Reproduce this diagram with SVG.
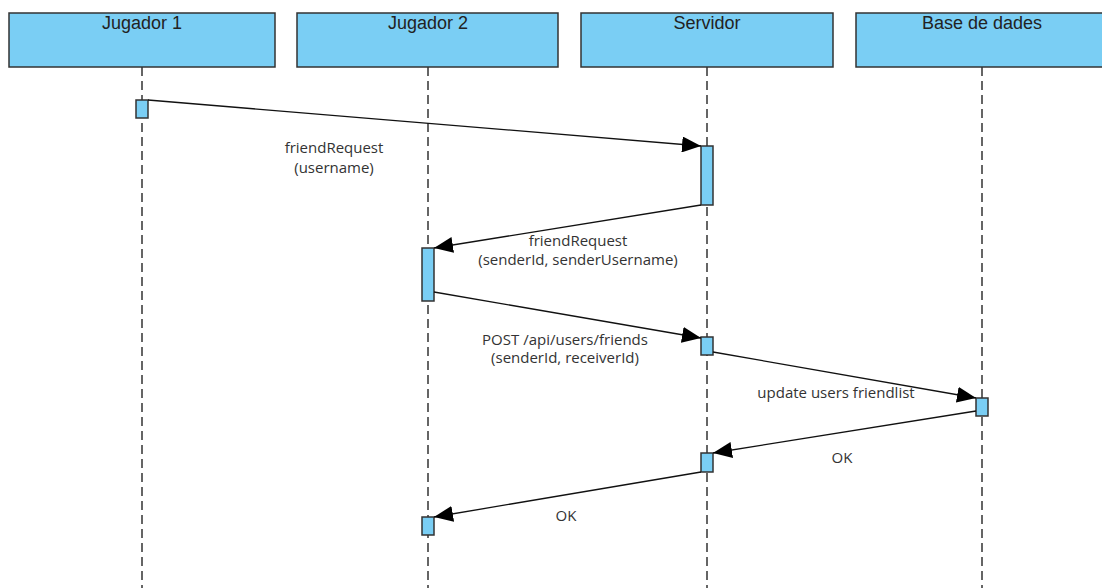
<svg xmlns="http://www.w3.org/2000/svg" width="1102" height="588" viewBox="0 0 1102 588">
<style>
.hd{fill:#7acef4;stroke:#333;stroke-width:1.5}
.ht{font-family:"Liberation Sans",Arial,sans-serif;font-size:18px;fill:#222;text-anchor:middle}
.ll{stroke:#333;stroke-width:1.5;stroke-dasharray:9,5;fill:none}
.act{fill:#7acef4;stroke:#333;stroke-width:1.5}
.msg{stroke:#111;stroke-width:1.3;fill:none;marker-end:url(#ah)}
.lb{font-family:"Open Sans","Noto Sans",sans-serif;font-size:15px;fill:#333;text-anchor:middle}
</style>
<defs>
<marker id="ah" viewBox="0 0 19 16" refX="19" refY="8" markerWidth="19" markerHeight="16" markerUnits="userSpaceOnUse" orient="auto">
<path d="M0,0 L19,8 L0,16 Z" fill="#000"/>
</marker>
</defs>
<rect width="1102" height="588" fill="#fff"/>
<g id="jugador1">
<rect class="hd" x="9" y="13" width="266" height="54"/>
<text class="ht" x="142" y="29">Jugador 1</text>
<line class="ll" x1="142" y1="67" x2="142" y2="588"/>
<rect class="act" x="136" y="100" width="12" height="18"/>
</g>
<g id="jugador2">
<rect class="hd" x="297" y="13" width="261" height="54"/>
<text class="ht" x="428" y="29">Jugador 2</text>
<line class="ll" x1="428" y1="67" x2="428" y2="588"/>
<rect class="act" x="422" y="248" width="12" height="53"/>
<rect class="act" x="422" y="517" width="12" height="18"/>
</g>
<g id="servidor">
<rect class="hd" x="581" y="13" width="252" height="54"/>
<text class="ht" x="707" y="29">Servidor</text>
<line class="ll" x1="707" y1="67" x2="707" y2="588"/>
<rect class="act" x="701" y="146" width="12" height="59"/>
<rect class="act" x="701" y="337" width="12" height="18"/>
<rect class="act" x="701" y="453" width="12" height="19"/>
</g>
<g id="basededades">
<rect class="hd" x="856" y="13" width="252" height="54"/>
<text class="ht" x="982" y="29">Base de dades</text>
<line class="ll" x1="982" y1="67" x2="982" y2="588"/>
<rect class="act" x="976" y="398" width="12" height="18"/>
</g>
<g id="connectors">
<line class="msg" x1="148" y1="100" x2="701" y2="146"/>
<line class="msg" x1="701" y1="205" x2="434" y2="248"/>
<line class="msg" x1="434" y1="292" x2="701" y2="338"/>
<line class="msg" x1="713" y1="352" x2="976" y2="398"/>
<line class="msg" x1="976" y1="411" x2="713" y2="453"/>
<line class="msg" x1="701" y1="472" x2="434" y2="517"/>
<text class="lb" x="334" y="153">friendRequest</text>
<text class="lb" x="334" y="173">(username)</text>
<text class="lb" x="578" y="246">friendRequest</text>
<text class="lb" x="578" y="265">(senderId, senderUsername)</text>
<text class="lb" x="565" y="345">POST /api/users/friends</text>
<text class="lb" x="565" y="363">(senderId, receiverId)</text>
<text class="lb" x="836" y="398">update users friendlist</text>
<text class="lb" x="842" y="463">OK</text>
<text class="lb" x="566" y="521">OK</text>
</g>
</svg>
